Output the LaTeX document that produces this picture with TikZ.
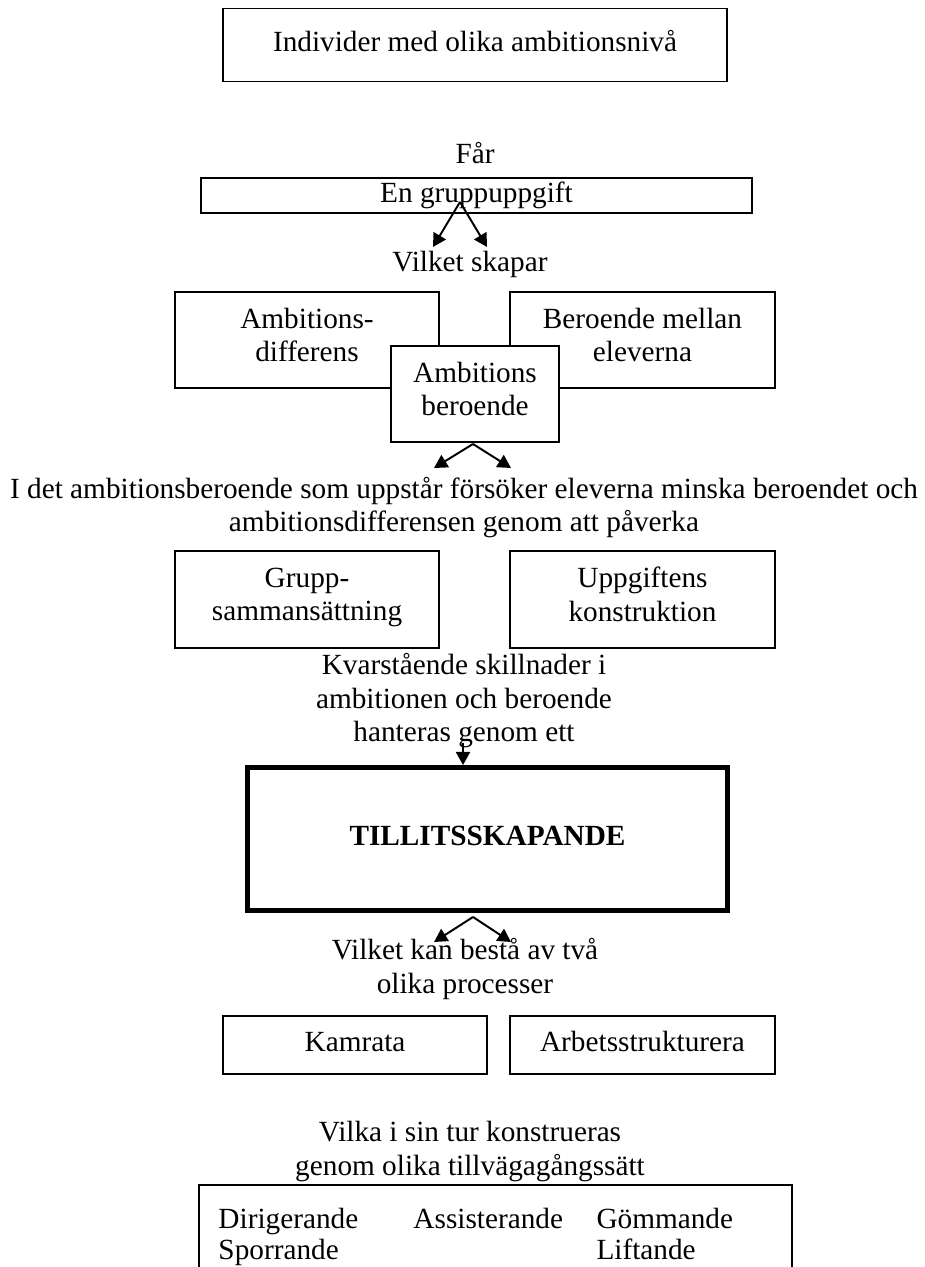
\documentclass[tikz,border=0pt]{standalone}
\usepackage{fontspec}
\setmainfont{Liberation Serif}
\usetikzlibrary{arrows.meta}
\newcommand{\pxu}{0.41pt}

\begin{document}
\begin{tikzpicture}[x=\pxu,y=-\pxu,
    every node/.style={font=\fontsize{12}{13.8}\selectfont,inner sep=0pt,
      execute at begin node=\strut,execute at end node=\strut},
    box/.style={draw,line width=0.8pt,fill=white,align=center},
    txt/.style={align=center},
    arr/.style={line width=0.8pt,-{Triangle[length=5.4pt,width=5.8pt]}}]
    \useasboundingbox (0,0) rectangle (924,1267);
    \clip (0,0) rectangle (924,1267);
    % top of the chain
    \node[box,minimum width=504*\pxu,minimum height=73*\pxu] (indiv) at (475,45) {Individer med olika ambitionsnivå};
    \node[txt] (gets) at (475,157) {Får};
    \node[box,minimum width=551*\pxu,minimum height=35*\pxu] (task) at (476.5,195.5) {En gruppuppgift};
    \coordinate (fork1) at (460,202);
    \coordinate (fork1l) at (433,247);
    \coordinate (fork1r) at (487,247);
    \draw[arr] (fork1) -- (fork1l);
    \draw[arr] (fork1) -- (fork1r);
    \node[txt] (creates) at (470,265) {Vilket skapar};
    % overlapping boxes
    \node[box,minimum width=264*\pxu,minimum height=96*\pxu] (diff) at (307,340) {Ambitions-\\differens};
    \node[box,minimum width=265*\pxu,minimum height=96*\pxu] (dep) at (642.5,340) {Beroende mellan\\eleverna};
    \node[box,minimum width=168*\pxu,minimum height=96*\pxu] (ambdep) at (475,394) {Ambitions\\beroende};
    \coordinate (fork2) at (473,444);
    \coordinate (fork2l) at (434,468);
    \coordinate (fork2r) at (511,468);
    \draw[arr] (fork2) -- (fork2l);
    \draw[arr] (fork2) -- (fork2r);
    \node[txt] (attempt) at (464,509.5) {I det ambitionsberoende som uppstår försöker eleverna minska beroendet och\\ambitionsdifferensen genom att påverka};
    \node[box,minimum width=264*\pxu,minimum height=97*\pxu] (grp) at (307,599.5) {Grupp-\\sammansättning};
    \node[box,minimum width=265*\pxu,minimum height=97*\pxu] (constr) at (642.5,599.5) {Uppgiftens\\konstruktion};
    \node[txt] (remain) at (464,702.5) {Kvarstående skillnader i\\ambitionen och beroende\\hanteras genom ett};
    % central box
    \node[box,line width=2pt,minimum width=480*\pxu,minimum height=143*\pxu,font=\fontsize{12}{13.8}\selectfont\bfseries] (trust) at (487.5,839) {TILLITSSKAPANDE};
    \coordinate (entry) at (463,743);
    \draw[arr] (entry) -- (entry |- trust.north);
    \coordinate (fork3) at (473,917);
    \coordinate (fork3l) at (434,942);
    \coordinate (fork3r) at (511,942);
    \draw[arr] (fork3) -- (fork3l);
    \draw[arr] (fork3) -- (fork3r);
    \node[txt] (consists) at (465,971) {Vilket kan bestå av två\\olika processer};
    \node[box,minimum width=264*\pxu,minimum height=58*\pxu] (kam) at (355,1045) {Kamrata};
    \node[box,minimum width=265*\pxu,minimum height=58*\pxu] (arb) at (642.5,1045) {Arbetsstrukturera};
    \node[txt] (turn) at (470,1153.5) {Vilka i sin tur konstrueras\\genom olika tillvägagångssätt};
    % bottom box, cut by the page edge
    \node[box,minimum width=593*\pxu,minimum height=130*\pxu] (ways) at (495.5,1250) {};
    \node[anchor=base west] (dir) at (218,1228) {Dirigerande};
    \node[anchor=base west] (spo) at (218,1259) {Sporrande};
    \node[anchor=base west] (ass) at (413,1228) {Assisterande};
    \node[anchor=base west] (gom) at (596,1228) {Gömmande};
    \node[anchor=base west] (lif) at (596,1259) {Liftande};
\end{tikzpicture}
\end{document}
